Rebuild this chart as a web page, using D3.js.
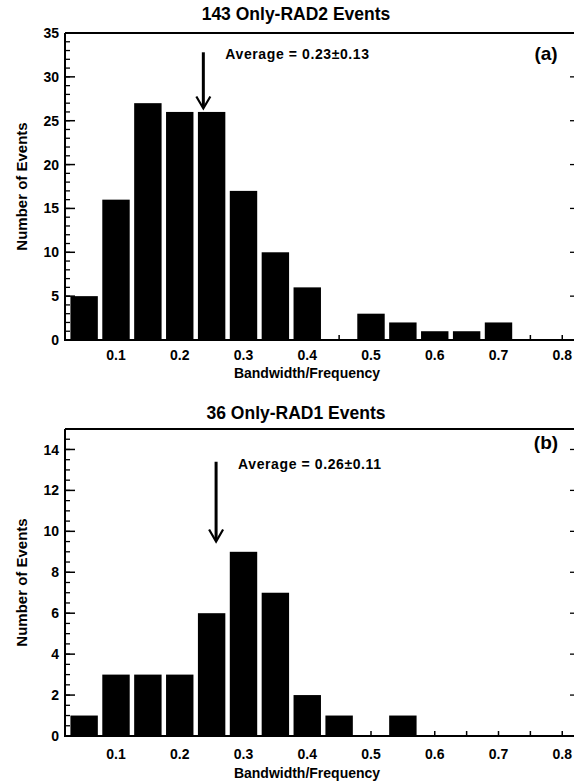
<!DOCTYPE html>
<html>
<head>
<meta charset="utf-8">
<script src="https://cdn.jsdelivr.net/npm/d3@7"></script>
<style>
  body { margin: 0; background: #fff; }
  text { font-family: "Liberation Sans", Arial, sans-serif; font-weight: bold; fill: #000; }
</style>
</head>
<body>
<svg id="chart" width="574" height="781"></svg>
<script>
// bin centres (bandwidth / frequency)
var bins = [0.05, 0.1, 0.15, 0.2, 0.25, 0.3, 0.35, 0.4, 0.45, 0.5, 0.55, 0.6, 0.65, 0.7, 0.75, 0.8];
// counts (a) and (b)
var countsA = [5, 16, 27, 26, 26, 17, 10, 6, 0, 3, 2, 1, 1, 2, 0, 0];
var countsB = [1, 3, 3, 3, 6, 9, 7, 2, 1, 0, 1, 0, 0, 0, 0, 0];
var xTicks = [0.1, 0.2, 0.3, 0.4, 0.5, 0.6, 0.7, 0.8];
var yTicksA = [0, 5, 10, 15, 20, 25, 30, 35];
var yTicksB = [0, 2, 4, 6, 8, 10, 12, 14];
var titles = ["143 Only-RAD2 Events", "36 Only-RAD1 Events"];
var averages = ["Average = 0.23\u00b10.13", "Average = 0.26\u00b10.11"];
var arrowAt = [0.237, 0.257];   // where the arrows sit on the x axis
var panelTags = ["(a)", "(b)"];

var svg = d3.select("#chart");

var x = d3.scaleLinear().domain([0.02, 0.82]).range([65, 575]);
var barW = 0.043;

function drawPanel(opts) {
  var y = d3.scaleLinear().domain([0, opts.ymax]).range([opts.bottom, opts.top]);
  var g = svg.append("g");

  // title
  g.append("text")
      .attr("x", 296)
      .attr("y", opts.titleY)
      .attr("text-anchor", "middle")
      .style("font-size", "17.5px")
      .text(opts.title);

  // small ticks at every bin on the bottom axis (hidden under bars)
  g.selectAll(".bt")
      .data(bins)
    .enter().append("line")
      .attr("x1", function(d) { return x(d); })
      .attr("x2", function(d) { return x(d); })
      .attr("y1", opts.bottom)
      .attr("y2", opts.bottom - 5)
      .attr("stroke", "#000")
      .attr("stroke-width", 1.5);

  // left axis minor/major ticks (inward)
  var minor = d3.range(0, opts.ymax + 0.001, opts.minorStep);
  g.selectAll(".mt")
      .data(minor)
    .enter().append("line")
      .attr("x1", 65)
      .attr("x2", 70)
      .attr("y1", function(d) { return y(d); })
      .attr("y2", function(d) { return y(d); })
      .attr("stroke", "#000")
      .attr("stroke-width", 1.3);
  g.selectAll(".Mt")
      .data(opts.yTicks)
    .enter().append("line")
      .attr("x1", 65)
      .attr("x2", 75)
      .attr("y1", function(d) { return y(d); })
      .attr("y2", function(d) { return y(d); })
      .attr("stroke", "#000")
      .attr("stroke-width", 1.5);
  // right axis major ticks
  g.selectAll(".rt")
      .data(opts.yTicks)
    .enter().append("line")
      .attr("x1", 570)
      .attr("x2", 575)
      .attr("y1", function(d) { return y(d); })
      .attr("y2", function(d) { return y(d); })
      .attr("stroke", "#000")
      .attr("stroke-width", 1.3);

  // bars
  g.selectAll(".bar")
      .data(opts.counts.map(function(c, i) { return {v: bins[i], c: c}; }).filter(function(d) { return d.c > 0; }))
    .enter().append("rect")
      .attr("x", function(d) { return Math.max(65, x(d.v - barW / 2)); })
      .attr("width", function(d) { return x(d.v + barW / 2) - Math.max(65, x(d.v - barW / 2)); })
      .attr("y", function(d) { return y(d.c); })
      .attr("height", function(d) { return y(0) - y(d.c); })
      .attr("fill", "#000");

  // frame
  g.append("path")
      .attr("d", "M65," + opts.top + "V" + opts.bottom + "H575")
      .attr("fill", "none")
      .attr("stroke", "#000")
      .attr("stroke-width", 2);
  g.append("line")
      .attr("x1", 65).attr("x2", 575)
      .attr("y1", opts.top).attr("y2", opts.top)
      .attr("stroke", "#000")
      .attr("stroke-width", 2);

  // y tick labels
  g.selectAll(".yl")
      .data(opts.yTicks)
    .enter().append("text")
      .attr("x", 59)
      .attr("y", function(d) { return y(d); })
      .attr("dy", "0.36em")
      .attr("text-anchor", "end")
      .style("font-size", "14px")
      .text(function(d) { return d; });

  // x tick labels
  g.selectAll(".xl")
      .data(xTicks)
    .enter().append("text")
      .attr("x", function(d) { return x(d); })
      .attr("y", opts.bottom + opts.xlOff)
      .attr("text-anchor", "middle")
      .style("font-size", "14px")
      .text(function(d) { return d3.format(".1f")(d); });

  // axis titles
  g.append("text")
      .attr("x", 307)
      .attr("y", opts.bottom + opts.xtOff)
      .attr("text-anchor", "middle")
      .style("font-size", "14px")
      .text("Bandwidth/Frequency");
  g.append("text")
      .attr("transform", "translate(27," + ((opts.top + opts.bottom) / 2) + ") rotate(-90)")
      .attr("text-anchor", "middle")
      .style("font-size", "15px")
      .text("Number of Events");

  // average arrow
  var ax = x(opts.arrowX);
  g.append("line")
      .attr("x1", ax).attr("x2", ax)
      .attr("y1", y(opts.arrowFrom)).attr("y2", y(opts.arrowTo) - 2)
      .attr("stroke", "#000")
      .attr("stroke-width", 3);
  g.append("path")
      .attr("d", "M" + (ax - 7) + "," + (y(opts.arrowTo) - 12) + "L" + ax + "," + y(opts.arrowTo) + "L" + (ax + 7) + "," + (y(opts.arrowTo) - 12))
      .attr("fill", "none")
      .attr("stroke", "#000")
      .attr("stroke-width", 2.2);

  g.append("text")
      .attr("x", ax + 22)
      .attr("y", y(opts.arrowFrom) + 7)
      .style("font-size", "14px")
      .style("letter-spacing", "0.6px")
      .text(opts.average);

  g.append("text")
      .attr("x", 546)
      .attr("y", opts.tagY)
      .attr("text-anchor", "middle")
      .style("font-size", "19px")
      .text(opts.tag);
}

drawPanel({
  top: 33, bottom: 340, ymax: 35, minorStep: 1,
  yTicks: yTicksA, counts: countsA, title: titles[0], titleY: 20,
  average: averages[0], arrowX: arrowAt[0], arrowFrom: 32.8, arrowTo: 26.4,
  tag: panelTags[0], tagY: 60, xlOff: 20, xtOff: 38
});

drawPanel({
  top: 429, bottom: 736, ymax: 15, minorStep: 0.5,
  yTicks: yTicksB, counts: countsB, title: titles[1], titleY: 419,
  average: averages[1], arrowX: arrowAt[1], arrowFrom: 13.4, arrowTo: 9.5,
  tag: panelTags[1], tagY: 449, xlOff: 23, xtOff: 42
});
</script>
</body>
</html>
